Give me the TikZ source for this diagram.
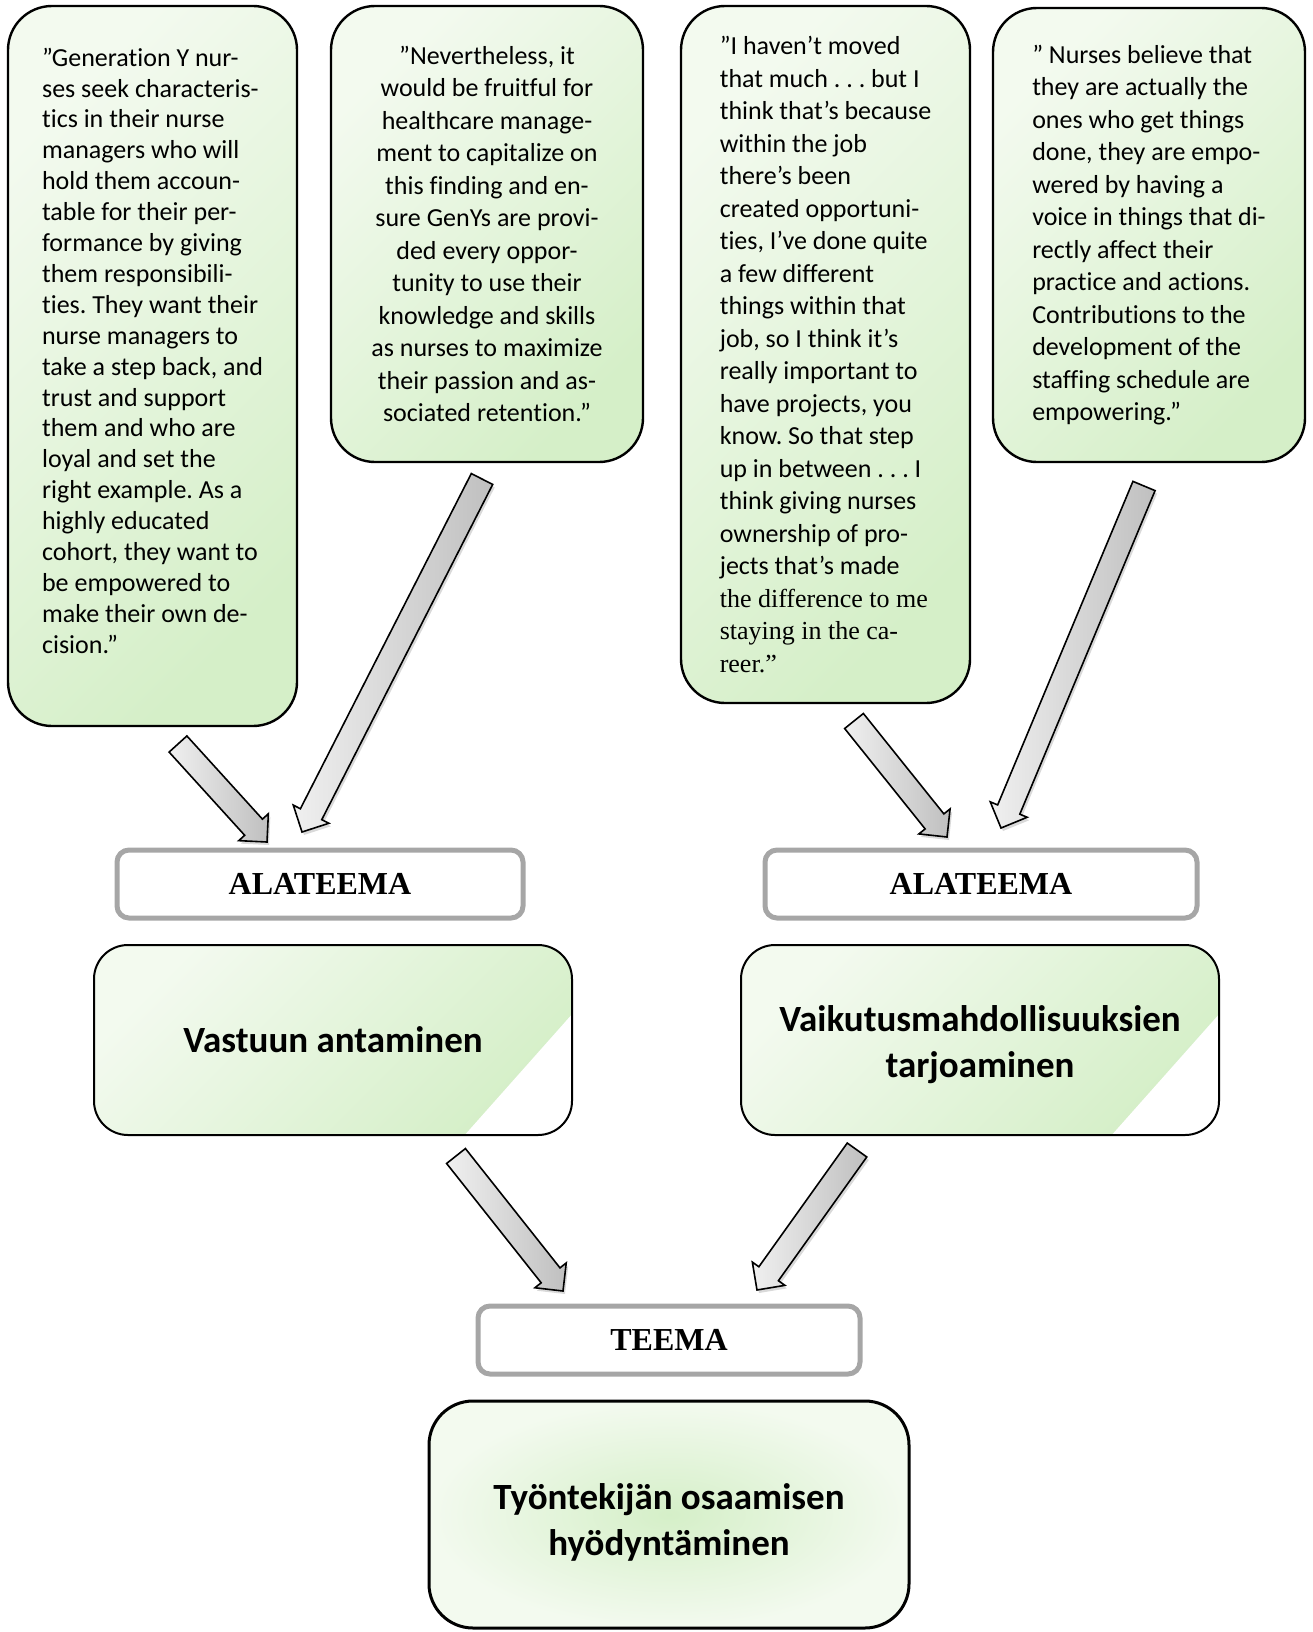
\documentclass[tikz,border=0pt]{standalone}
\usepackage{fontspec}
\setmainfont{Carlito}[Ligatures=NoCommon]
\newfontfamily\timesfont{Liberation Serif}
\frenchspacing
\usetikzlibrary{calc}
\usetikzlibrary{shadows}
\definecolor{palegreen}{HTML}{F3FAEF}
\definecolor{leafgreen}{HTML}{D5EFC8}
\definecolor{framegray}{HTML}{A6A6A6}

\begin{document}
\begin{tikzpicture}[x=0.5pt,y=-0.5pt,
		quote/.style={draw=black,line width=1.2pt,rounded corners=22pt,top color=palegreen,bottom color=leafgreen,shading angle=45,inner sep=0pt,font=\fontsize{13}{16.25}\selectfont},
		labelbox/.style={draw=framegray,line width=2.5pt,rounded corners=6pt,fill=white,inner sep=0pt,minimum height=34pt,font=\timesfont\bfseries\fontsize{16}{19}\selectfont},
		themebox/.style={draw=black,line width=1pt,rounded corners=17pt,top color=palegreen,bottom color=leafgreen,shading angle=45,align=center,minimum width=239pt,minimum height=95pt,font=\bfseries\fontsize{18.5}{22.9}\selectfont,
			path picture={\fill[white,sharp corners] ([shift={(1pt,61.5pt)}]path picture bounding box.south east) -- ([shift={(-54.5pt,-1pt)}]path picture bounding box.south east) -- ([shift={(1pt,-1pt)}]path picture bounding box.south east) -- cycle;}},
		mainbox/.style={draw=black,line width=1.5pt,rounded corners=22pt,inner color=leafgreen,outer color=palegreen,align=center,font=\bfseries\fontsize{18.5}{22.9}\selectfont},
		fatarrow/.style={draw=black,line width=0.8pt,left color=gray!12,right color=gray!50,drop shadow={opacity=0.3,shadow xshift=1pt,shadow yshift=-1.5pt},
			to path={($(\tikztostart)!6pt!90:(\tikztotarget)$) -- ($(\tikztotarget)!10pt!(\tikztostart)!6pt!-90:(\tikztostart)$) -- ($(\tikztotarget)!10pt!(\tikztostart)!10pt!-90:(\tikztostart)$) -- (\tikztotarget) -- ($(\tikztotarget)!10pt!(\tikztostart)!10pt!90:(\tikztostart)$) -- ($(\tikztotarget)!10pt!(\tikztostart)!6pt!90:(\tikztostart)$) -- ($(\tikztostart)!6pt!-90:(\tikztotarget)$) -- cycle}}]
	\useasboundingbox (0,0) rectangle (1312,1632);
	\node[quote,minimum width=144.5pt,minimum height=360pt,align=left,font=\fontsize{13}{15.45}\selectfont] (q1) at (152.5,366) {”Generation Y nur-\\ses seek characteris-\\tics in their nurse\\managers who will\\hold them accoun-\\table for their per-\\formance by giving\\them responsibili-\\ties. They want their\\nurse managers to\\take a step back, and\\trust and support\\them and who are\\loyal and set the\\right example. As a\\highly educated\\cohort, they want to\\be empowered to\\make their own de-\\cision.”\\ \mbox{}};
	\node[quote,minimum width=156pt,minimum height=228pt,align=center] (q2) at (487,234) {”Nevertheless, it\\would be fruitful for\\healthcare manage-\\ment to capitalize on\\this finding and en-\\sure GenYs are provi-\\ded every oppor-\\tunity to use their\\knowledge and skills\\as nurses to maximize\\their passion and as-\\sociated retention.”};
	\node[quote,minimum width=144.5pt,minimum height=348.5pt,align=left] (q3) at (825.5,354.5) {”I haven’t moved\\that much . . . but I\\think that’s because\\within the job\\there’s been\\created opportuni-\\ties, I’ve done quite\\a few different\\things within that\\job, so I think it’s\\really important to\\have projects, you\\know. So that step\\up in between . . . I\\think giving nurses\\ownership of pro-\\jects that’s made\\{\timesfont the difference to me}\\{\timesfont staying in the ca-}\\{\timesfont reer.”}};
	\node[quote,minimum width=156pt,minimum height=227pt,align=left] (q4) at (1149,235) {” Nurses believe that\\they are actually the\\ones who get things\\done, they are empo-\\wered by having a\\voice in things that di-\\rectly affect their\\practice and actions.\\Contributions to the\\development of the\\staffing schedule are\\empowering.”};
	\node[labelbox,minimum width=203pt] (sub1) at (320,884) {ALATEEMA};
	\node[labelbox,minimum width=216pt] (sub2) at (981,884) {ALATEEMA};
	\node[themebox] (vastuu) at (333,1040) {Vastuun antaminen};
	\node[themebox] (vaikutus) at (980,1040) {\rule{0pt}{18pt}Vaikutusmahdollisuuksien\\tarjoaminen};
	\node[labelbox,minimum width=191pt] (teema) at (669,1340) {TEEMA};
	\node[mainbox,minimum width=240pt,minimum height=113.5pt] (osaaminen) at (669,1514.5) {\rule{0pt}{21pt}Työntekijän osaamisen\\hyödyntäminen};
	\coordinate (a1s) at (178,744);
	\coordinate (a1t) at (267,842);
	\coordinate (a2s) at (482,479);
	\coordinate (a2t) at (302,832);
	\coordinate (a3s) at (854,721);
	\coordinate (a3t) at (947,837);
	\coordinate (a4s) at (1144,486);
	\coordinate (a4t) at (1001,828);
	\coordinate (a5s) at (456,1156);
	\coordinate (a5t) at (563,1291);
	\coordinate (a6s) at (857,1150);
	\coordinate (a6t) at (757,1290);
	\draw[fatarrow] (a1s) to (a1t);
	\draw[fatarrow] (a2s) to (a2t);
	\draw[fatarrow] (a3s) to (a3t);
	\draw[fatarrow] (a4s) to (a4t);
	\draw[fatarrow] (a5s) to (a5t);
	\draw[fatarrow] (a6s) to (a6t);
\end{tikzpicture}
\end{document}
